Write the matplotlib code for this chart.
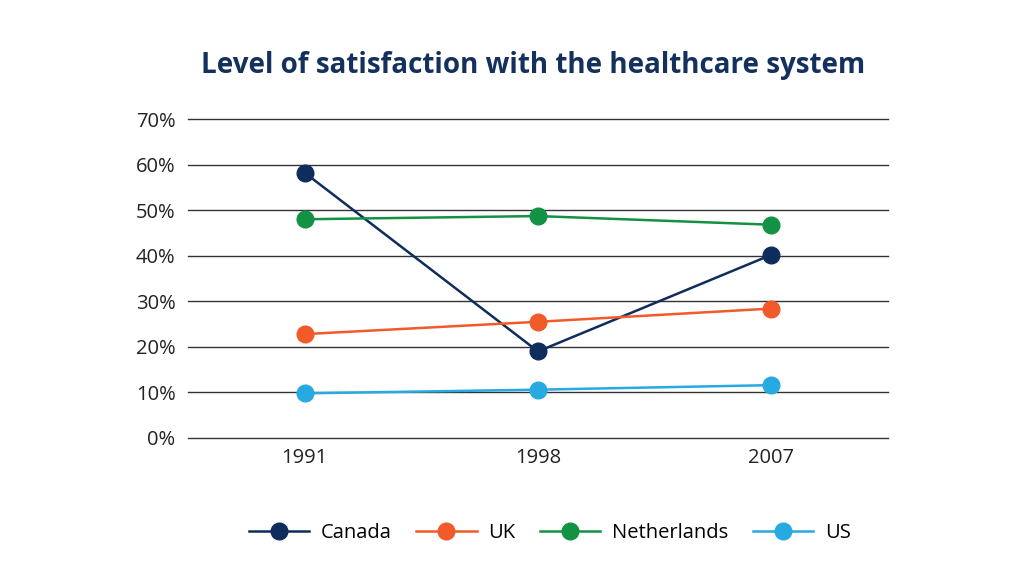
import matplotlib.pyplot as plt

# Data
years = ['1991', '1998', '2007']
canada = [58.2, 19.0, 40.2]
uk = [22.8, 25.5, 28.4]
netherlands = [48.0, 48.7, 46.8]
us = [9.8, 10.6, 11.6]

y_ticks = [0, 10, 20, 30, 40, 50, 60, 70]

plt.rcParams['font.family'] = ['Open Sans', 'DejaVu Sans']

fig = plt.figure(figsize=(10.24, 5.76), dpi=100)
ax = fig.add_axes([0.1836, 0.2396, 0.6836, 0.5538])

x = range(len(years))
series = [
    ('Canada', canada, '#0f2d5c'),
    ('UK', uk, '#f15a29'),
    ('Netherlands', netherlands, '#139244'),
    ('US', us, '#27a9e1'),
]
for name, vals, col in series:
    ax.plot(x, vals, color=col, linewidth=1.8, marker='o', markersize=12,
            label=name, zorder=3)

ax.set_ylim(0, 70)
ax.set_xlim(-0.5, 2.5)
ax.set_yticks(y_ticks)
ax.set_yticklabels([f'{t}%' for t in y_ticks])
ax.set_xticks(list(x))
ax.set_xticklabels(years)
ax.grid(axis='y', color='#333333', linewidth=1.0)
for gl in ax.get_ygridlines():
    gl.set_clip_on(False)
ax.set_axisbelow(True)
for s in ['top', 'right', 'left', 'bottom']:
    ax.spines[s].set_visible(False)
ax.tick_params(axis='both', length=0, labelsize=14.5, colors='#222222')
ax.tick_params(axis='x', pad=7)
ax.tick_params(axis='y', pad=9)

fig.text(0.521, 0.887, 'Level of satisfaction with the healthcare system',
         ha='center', va='center', fontsize=20, fontweight='bold',
         color='#14305c')

fig.legend(loc='center', bbox_to_anchor=(0.537, 0.074), ncol=4, frameon=False,
           fontsize=14.5, handlelength=3.0, columnspacing=1.2, handletextpad=0.6)

fig.savefig('out.png', dpi=100, facecolor='white')
